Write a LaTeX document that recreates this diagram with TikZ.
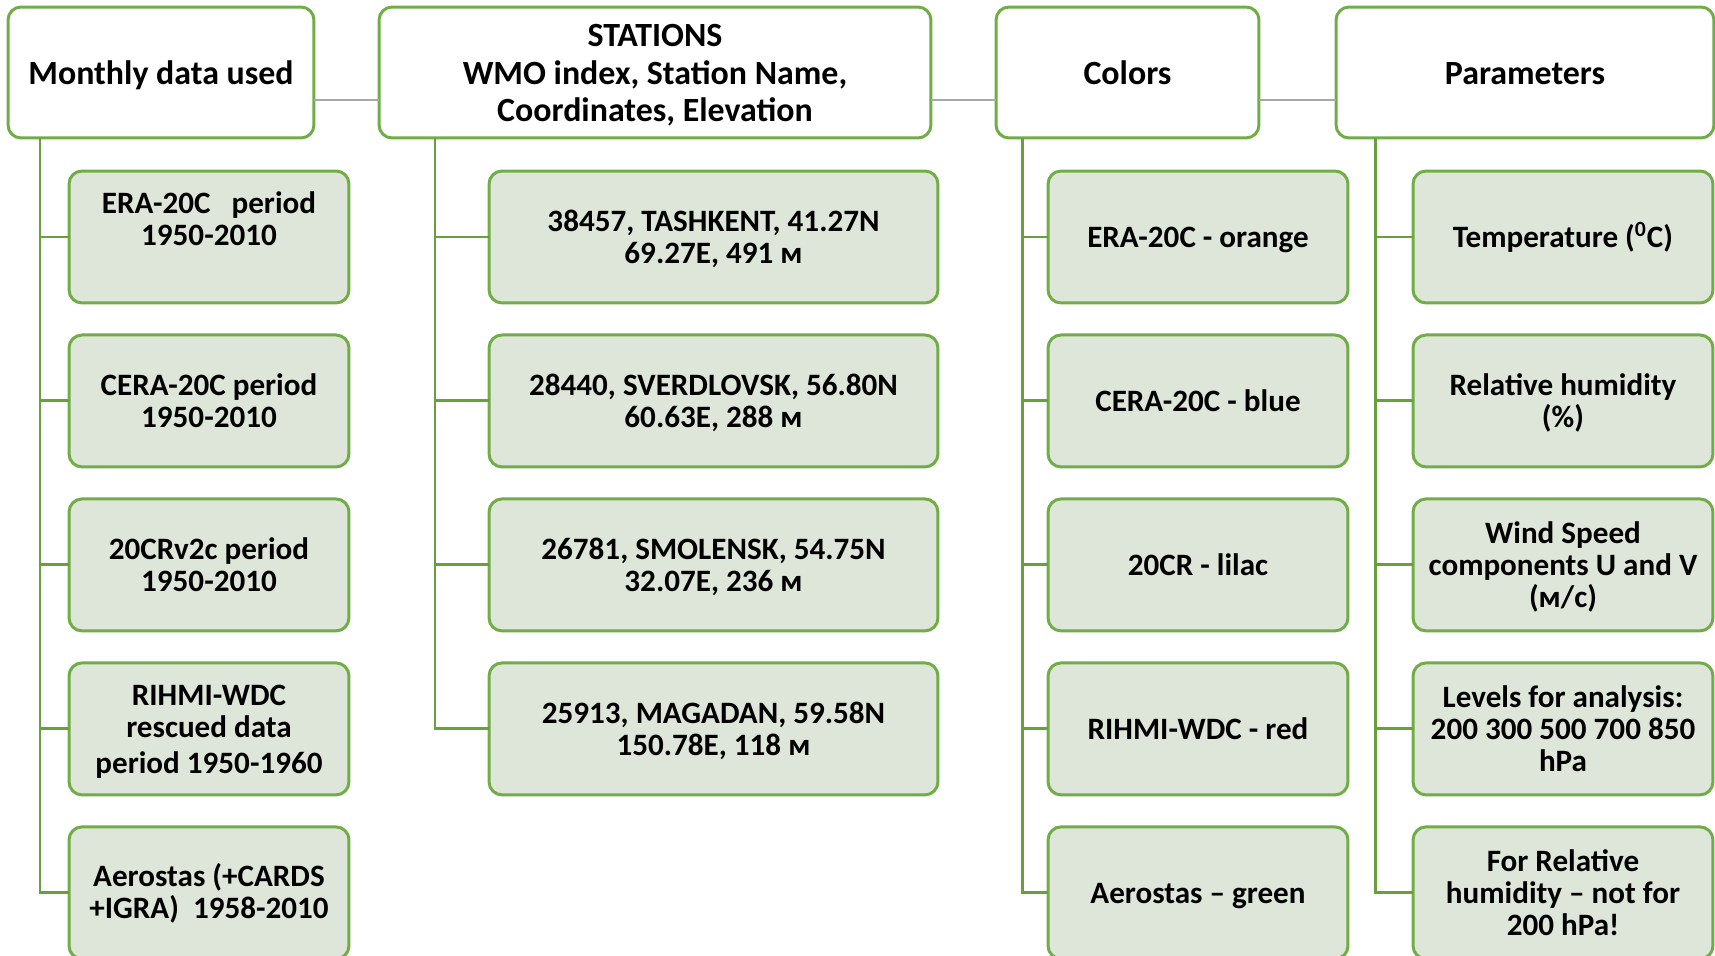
\documentclass[tikz,border=0pt]{standalone}
\usepackage{fontspec}
\setmainfont{Carlito}
\usetikzlibrary{positioning}
\definecolor{boxgreen}{RGB}{112,173,71}
\definecolor{boxfill}{RGB}{222,230,217}
\definecolor{treegreen}{RGB}{104,160,64}
\definecolor{linkgray}{RGB}{168,168,168}
\newcommand{\topstrut}{\vrule height 0.85em depth 0pt width 0pt}
\newcommand{\botstrut}{\vrule height 0pt depth 0.15em width 0pt}

\begin{document}
\begin{tikzpicture}[x=0.02cm, y=-0.02cm,
  head/.style={rectangle, draw=boxgreen, fill=white, line width=1.7pt, rounded corners=0.26cm, minimum height=2.62cm, align=center, inner sep=0pt, outer sep=0pt, font={\fontsize{19.3}{21.3}\selectfont\bfseries}, execute at begin node=\topstrut, execute at end node=\botstrut},
  item/.style={rectangle, draw=boxgreen, fill=boxfill, line width=1.7pt, rounded corners=0.26cm, minimum height=2.64cm, align=center, inner sep=0pt, outer sep=0pt, font={\fontsize{17.7}{18.2}\selectfont\bfseries}, execute at begin node=\topstrut, execute at end node=\botstrut},
  tree/.style={draw=treegreen, line width=1.7pt},
  link/.style={draw=linkgray, line width=1.1pt}
]
  \clip (0,0) rectangle (1715,956);

  % headers
  \node[head, minimum width=6.12cm] (used) at (161,72.5) {Monthly data used};
  \node[head, minimum width=11.04cm] (stations) at (655,72.5) {\topstrut STATIONS\\WMO index, Station Name,\\Coordinates, Elevation};
  \node[head, minimum width=5.26cm] (colors) at (1127.5,72.5) {Colors};
  \node[head, minimum width=7.56cm] (params) at (1525,72.5) {Parameters};

  % monthly data
  \node[item, minimum width=5.6cm] (era) at (209,237) {ERA-20C\ \ \ period\\1950-2010\\\mbox{}};
  \node[item, minimum width=5.6cm, below=0.64cm of era] (cera) {\topstrut CERA-20C period\\1950-2010};
  \node[item, minimum width=5.6cm, below=0.64cm of cera] (twcr) {\topstrut 20CRv2c period\\1950-2010};
  \node[item, minimum width=5.6cm, below=0.64cm of twcr] (rihmi) {\topstrut RIHMI-WDC\\rescued data\\[2pt]period 1950-1960};
  \node[item, minimum width=5.6cm, below=0.64cm of rihmi] (aero) {Aerostas (+CARDS\\+IGRA)\ \ 1958-2010};

  % stations
  \node[item, minimum width=8.98cm] (tashkent) at (713.5,237) {\topstrut 38457, TASHKENT, 41.27N\\69.27E, 491 м};
  \node[item, minimum width=8.98cm, below=0.64cm of tashkent] (sverdlovsk) {\topstrut 28440, SVERDLOVSK, 56.80N\\60.63E, 288 м};
  \node[item, minimum width=8.98cm, below=0.64cm of sverdlovsk] (smolensk) {\topstrut 26781, SMOLENSK, 54.75N\\32.07E, 236 м};
  \node[item, minimum width=8.98cm, below=0.64cm of smolensk] (magadan) {\topstrut 25913, MAGADAN, 59.58N\\150.78E, 118 м};

  % colors
  \node[item, minimum width=6cm] (orange) at (1198,237) {ERA-20C - orange};
  \node[item, minimum width=6cm, below=0.64cm of orange] (blue) {CERA-20C - blue};
  \node[item, minimum width=6cm, below=0.64cm of blue] (lilac) {20CR - lilac};
  \node[item, minimum width=6cm, below=0.64cm of lilac] (red) {RIHMI-WDC - red};
  \node[item, minimum width=6cm, below=0.64cm of red] (green) {Aerostas – green};

  % parameters
  \node[item, minimum width=6cm] (temp) at (1563,237) {Temperature (\textsuperscript{0}C)};
  \node[item, minimum width=6cm, below=0.64cm of temp] (humid) {\topstrut Relative humidity\\(\%)};
  \node[item, minimum width=6cm, below=0.64cm of humid] (wind) {\topstrut Wind Speed\\components U and V\\(м/с)};
  \node[item, minimum width=6cm, below=0.64cm of wind] (levels) {\topstrut Levels for analysis:\\200 300 500 700 850\\hPa};
  \node[item, minimum width=6cm, below=0.64cm of levels] (note) {\topstrut For Relative\\humidity – not for\\200 hPa!};

  % links between headers
  \draw[link] ([yshift=-0.55cm]used.east) -- ([yshift=-0.55cm]stations.west);
  \draw[link] ([yshift=-0.55cm]stations.east) -- ([yshift=-0.55cm]colors.west);
  \draw[link] ([yshift=-0.55cm]colors.east) -- ([yshift=-0.55cm]params.west);

  % trunks
  \coordinate (t1) at (40,138);
  \coordinate (t2) at (435,138);
  \coordinate (t3) at (1022,138);
  \coordinate (t4) at (1375,138);
  \draw[tree] (t1) |- (aero.west);
  \draw[tree] (t2) |- (magadan.west);
  \draw[tree] (t3) |- (green.west);
  \draw[tree] (t4) |- (note.west);
  \foreach \n in {era, cera, twcr, rihmi}
    \draw[tree] (t1 |- \n.west) -- (\n.west);
  \foreach \n in {tashkent, sverdlovsk, smolensk}
    \draw[tree] (t2 |- \n.west) -- (\n.west);
  \foreach \n in {orange, blue, lilac, red}
    \draw[tree] (t3 |- \n.west) -- (\n.west);
  \foreach \n in {temp, humid, wind, levels}
    \draw[tree] (t4 |- \n.west) -- (\n.west);
\end{tikzpicture}
\end{document}
